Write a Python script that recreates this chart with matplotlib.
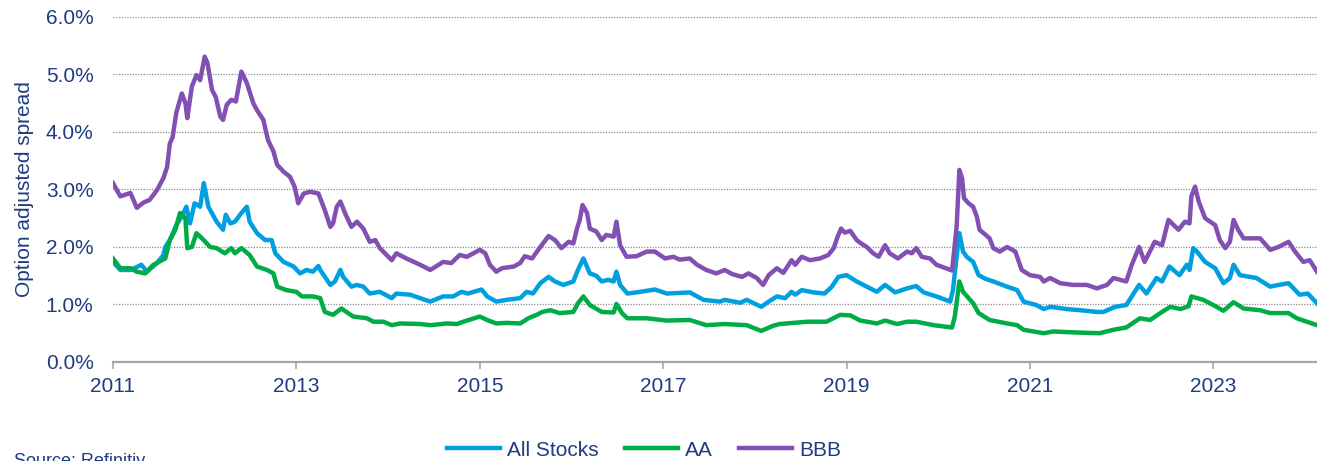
import matplotlib
matplotlib.use("Agg")
import matplotlib.pyplot as plt
import numpy as np

plt.rcParams['font.family'] = ['Liberation Sans', 'DejaVu Sans']

# series data: decimal year, spread in %
bbb_t = [2011.00, 2011.08, 2011.19, 2011.26, 2011.33, 2011.40, 2011.48, 2011.55, 2011.59, 2011.62,
         2011.65, 2011.69, 2011.75, 2011.79, 2011.81, 2011.86, 2011.91, 2011.95, 2012.00, 2012.03,
         2012.08, 2012.12, 2012.17, 2012.20, 2012.24, 2012.29, 2012.34, 2012.40, 2012.46, 2012.53,
         2012.57, 2012.64, 2012.69, 2012.75, 2012.79, 2012.86, 2012.93, 2012.98, 2013.02, 2013.08,
         2013.15, 2013.24, 2013.31, 2013.37, 2013.40, 2013.44, 2013.48, 2013.53, 2013.60, 2013.66,
         2013.73, 2013.80, 2013.86, 2013.91, 2014.04, 2014.09, 2014.20, 2014.35, 2014.46, 2014.60,
         2014.69, 2014.78, 2014.86, 2015.00, 2015.06, 2015.11, 2015.18, 2015.24, 2015.37, 2015.44,
         2015.49, 2015.57, 2015.66, 2015.75, 2015.82, 2015.89, 2015.97, 2016.02, 2016.06, 2016.09,
         2016.12, 2016.17, 2016.20, 2016.27, 2016.33, 2016.38, 2016.46, 2016.49, 2016.53, 2016.60,
         2016.71, 2016.82, 2016.91, 2017.02, 2017.11, 2017.18, 2017.29, 2017.37, 2017.47, 2017.58,
         2017.67, 2017.75, 2017.86, 2017.93, 2018.02, 2018.09, 2018.15, 2018.24, 2018.31, 2018.40,
         2018.44, 2018.51, 2018.60, 2018.71, 2018.80, 2018.86, 2018.90, 2018.94, 2018.98, 2019.04,
         2019.11, 2019.16, 2019.22, 2019.29, 2019.35, 2019.42, 2019.47, 2019.56, 2019.66, 2019.71,
         2019.76, 2019.82, 2019.91, 2019.98, 2020.05, 2020.15, 2020.17, 2020.20, 2020.23, 2020.26,
         2020.28, 2020.33, 2020.38, 2020.42, 2020.45, 2020.56, 2020.60, 2020.67, 2020.75, 2020.84,
         2020.91, 2021.00, 2021.11, 2021.15, 2021.22, 2021.33, 2021.47, 2021.62, 2021.73, 2021.84,
         2021.91, 2022.05, 2022.11, 2022.19, 2022.25, 2022.36, 2022.44, 2022.51, 2022.62, 2022.69,
         2022.74, 2022.76, 2022.80, 2022.84, 2022.91, 2023.02, 2023.07, 2023.13, 2023.18, 2023.22,
         2023.27, 2023.33, 2023.51, 2023.62, 2023.71, 2023.82, 2023.89, 2023.98, 2024.05, 2024.13]
bbb_v = [3.11, 2.88, 2.94, 2.68, 2.77, 2.82, 2.99, 3.20, 3.39, 3.80,
         3.91, 4.33, 4.67, 4.50, 4.24, 4.79, 4.99, 4.90, 5.31, 5.20,
         4.73, 4.61, 4.27, 4.21, 4.47, 4.56, 4.53, 5.05, 4.85, 4.50,
         4.38, 4.21, 3.86, 3.66, 3.43, 3.31, 3.22, 3.05, 2.76, 2.93,
         2.96, 2.93, 2.64, 2.35, 2.41, 2.70, 2.79, 2.59, 2.35, 2.44,
         2.32, 2.09, 2.12, 1.98, 1.77, 1.89, 1.80, 1.69, 1.60, 1.74,
         1.72, 1.86, 1.83, 1.95, 1.89, 1.69, 1.57, 1.63, 1.66, 1.72,
         1.84, 1.80, 2.00, 2.19, 2.12, 1.98, 2.09, 2.06, 2.32, 2.47,
         2.73, 2.59, 2.32, 2.27, 2.12, 2.21, 2.18, 2.44, 2.03, 1.83,
         1.84, 1.92, 1.92, 1.80, 1.83, 1.78, 1.80, 1.69, 1.60, 1.54,
         1.60, 1.53, 1.48, 1.54, 1.46, 1.34, 1.51, 1.63, 1.55, 1.77,
         1.69, 1.83, 1.77, 1.80, 1.86, 1.98, 2.17, 2.32, 2.25, 2.28,
         2.12, 2.06, 2.00, 1.89, 1.83, 2.03, 1.89, 1.80, 1.92, 1.89,
         1.98, 1.83, 1.80, 1.69, 1.65, 1.59, 1.89, 2.35, 3.34, 3.19,
         2.85, 2.76, 2.70, 2.53, 2.30, 2.15, 1.98, 1.92, 2.00, 1.92,
         1.60, 1.51, 1.48, 1.40, 1.46, 1.37, 1.34, 1.34, 1.28, 1.34,
         1.46, 1.40, 1.69, 2.00, 1.74, 2.09, 2.03, 2.47, 2.30, 2.44,
         2.41, 2.88, 3.05, 2.79, 2.50, 2.38, 2.12, 1.98, 2.09, 2.47,
         2.30, 2.15, 2.15, 1.95, 2.00, 2.09, 1.92, 1.74, 1.77, 1.57]

all_t = [2011.00, 2011.08, 2011.19, 2011.31, 2011.37, 2011.48, 2011.55, 2011.57, 2011.62, 2011.69,
         2011.75, 2011.80, 2011.84, 2011.89, 2011.95, 2011.99, 2012.04, 2012.13, 2012.20, 2012.23,
         2012.28, 2012.33, 2012.40, 2012.46, 2012.49, 2012.57, 2012.66, 2012.73, 2012.77, 2012.86,
         2012.97, 2013.04, 2013.11, 2013.18, 2013.24, 2013.26, 2013.37, 2013.42, 2013.48, 2013.51,
         2013.60, 2013.66, 2013.73, 2013.80, 2013.91, 2014.04, 2014.09, 2014.24, 2014.46, 2014.60,
         2014.71, 2014.80, 2014.87, 2015.02, 2015.08, 2015.18, 2015.29, 2015.44, 2015.51, 2015.58,
         2015.66, 2015.75, 2015.82, 2015.91, 2016.02, 2016.07, 2016.13, 2016.20, 2016.27, 2016.33,
         2016.40, 2016.46, 2016.49, 2016.53, 2016.61, 2016.75, 2016.91, 2017.04, 2017.29, 2017.44,
         2017.62, 2017.67, 2017.84, 2017.91, 2018.07, 2018.15, 2018.24, 2018.33, 2018.40, 2018.44,
         2018.51, 2018.64, 2018.76, 2018.84, 2018.91, 2019.00, 2019.11, 2019.22, 2019.33, 2019.42,
         2019.53, 2019.66, 2019.76, 2019.84, 2019.98, 2020.13, 2020.16, 2020.20, 2020.23, 2020.27,
         2020.31, 2020.38, 2020.44, 2020.51, 2020.60, 2020.75, 2020.86, 2020.93, 2021.07, 2021.15,
         2021.22, 2021.40, 2021.55, 2021.73, 2021.80, 2021.93, 2022.05, 2022.11, 2022.19, 2022.27,
         2022.38, 2022.44, 2022.52, 2022.63, 2022.71, 2022.74, 2022.78, 2022.82, 2022.91, 2023.02,
         2023.11, 2023.18, 2023.22, 2023.29, 2023.47, 2023.62, 2023.71, 2023.82, 2023.94, 2024.03,
         2024.13]
all_v = [1.74, 1.60, 1.60, 1.69, 1.57, 1.72, 1.86, 2.00, 2.12, 2.38,
         2.53, 2.70, 2.41, 2.76, 2.70, 3.11, 2.70, 2.44, 2.30, 2.56,
         2.41, 2.44, 2.59, 2.70, 2.44, 2.24, 2.12, 2.12, 1.89, 1.74,
         1.66, 1.54, 1.60, 1.57, 1.67, 1.60, 1.34, 1.40, 1.60, 1.48,
         1.31, 1.34, 1.31, 1.19, 1.22, 1.11, 1.19, 1.17, 1.05, 1.14,
         1.14, 1.22, 1.19, 1.26, 1.14, 1.05, 1.08, 1.11, 1.22, 1.19,
         1.37, 1.48, 1.40, 1.34, 1.40, 1.60, 1.80, 1.54, 1.50, 1.40,
         1.43, 1.40, 1.57, 1.34, 1.19, 1.22, 1.26, 1.19, 1.21, 1.08,
         1.05, 1.08, 1.03, 1.08, 0.96, 1.05, 1.14, 1.11, 1.22, 1.17,
         1.25, 1.21, 1.19, 1.31, 1.48, 1.51, 1.40, 1.31, 1.22, 1.34,
         1.21, 1.28, 1.32, 1.21, 1.14, 1.05, 1.25, 1.83, 2.24, 1.92,
         1.83, 1.74, 1.51, 1.45, 1.40, 1.31, 1.25, 1.05, 0.99, 0.92,
         0.96, 0.92, 0.90, 0.87, 0.87, 0.96, 0.99, 1.14, 1.34, 1.19,
         1.46, 1.40, 1.66, 1.51, 1.69, 1.60, 1.98, 1.92, 1.74, 1.63,
         1.37, 1.46, 1.69, 1.51, 1.46, 1.31, 1.34, 1.37, 1.17, 1.19,
         1.02]

aa_t = [2011.00, 2011.08, 2011.19, 2011.26, 2011.35, 2011.44, 2011.57, 2011.62, 2011.68, 2011.73,
        2011.79, 2011.81, 2011.86, 2011.91, 2011.97, 2012.06, 2012.13, 2012.22, 2012.29, 2012.33,
        2012.40, 2012.49, 2012.57, 2012.68, 2012.75, 2012.79, 2012.89, 2013.00, 2013.06, 2013.18,
        2013.26, 2013.31, 2013.40, 2013.49, 2013.62, 2013.77, 2013.84, 2013.95, 2014.04, 2014.13,
        2014.35, 2014.46, 2014.64, 2014.75, 2014.82, 2015.00, 2015.08, 2015.18, 2015.29, 2015.44,
        2015.53, 2015.62, 2015.68, 2015.77, 2015.87, 2016.02, 2016.07, 2016.13, 2016.20, 2016.33,
        2016.46, 2016.49, 2016.55, 2016.61, 2016.82, 2017.04, 2017.29, 2017.47, 2017.67, 2017.91,
        2018.07, 2018.20, 2018.27, 2018.42, 2018.57, 2018.78, 2018.93, 2019.04, 2019.15, 2019.33,
        2019.42, 2019.55, 2019.66, 2019.76, 2019.95, 2020.15, 2020.18, 2020.23, 2020.27, 2020.38,
        2020.44, 2020.56, 2020.75, 2020.86, 2020.93, 2021.15, 2021.25, 2021.55, 2021.76, 2021.91,
        2022.05, 2022.20, 2022.31, 2022.42, 2022.53, 2022.64, 2022.73, 2022.76, 2022.89, 2023.00,
        2023.11, 2023.22, 2023.33, 2023.51, 2023.62, 2023.82, 2023.91, 2024.13]
aa_v = [1.80, 1.63, 1.63, 1.57, 1.54, 1.69, 1.80, 2.12, 2.30, 2.59,
        2.50, 1.98, 2.00, 2.24, 2.15, 2.00, 1.98, 1.89, 1.98, 1.89,
        1.98, 1.86, 1.66, 1.60, 1.54, 1.31, 1.25, 1.22, 1.14, 1.14,
        1.11, 0.87, 0.82, 0.93, 0.79, 0.76, 0.70, 0.70, 0.64, 0.67,
        0.66, 0.64, 0.67, 0.66, 0.70, 0.79, 0.73, 0.67, 0.68, 0.67,
        0.76, 0.82, 0.87, 0.90, 0.85, 0.87, 1.02, 1.14, 0.99, 0.87,
        0.86, 1.01, 0.85, 0.76, 0.76, 0.72, 0.73, 0.64, 0.66, 0.64,
        0.54, 0.63, 0.66, 0.68, 0.70, 0.70, 0.82, 0.81, 0.72, 0.67,
        0.72, 0.66, 0.70, 0.70, 0.64, 0.60, 0.79, 1.40, 1.22, 1.02,
        0.85, 0.73, 0.67, 0.64, 0.56, 0.50, 0.53, 0.51, 0.50, 0.56,
        0.60, 0.76, 0.73, 0.85, 0.96, 0.92, 0.97, 1.14, 1.08, 0.99,
        0.89, 1.04, 0.93, 0.90, 0.85, 0.85, 0.76, 0.64]

year_ticks = [2011, 2013, 2015, 2017, 2019, 2021, 2023]
pct_ticks = [0, 1, 2, 3, 4, 5, 6]

navy = '#1f3b82'

fig = plt.figure(figsize=(13.17, 4.61), dpi=100)
ax = fig.add_axes([0.0858, 0.2148, 0.9142, 0.7484])

ax.plot(all_t, all_v, color='#00a0e0', lw=3.2, label='All Stocks', solid_joinstyle='round')
ax.plot(aa_t, aa_v, color='#00ac46', lw=3.2, label='AA', solid_joinstyle='round')
ax.plot(bbb_t, bbb_v, color='#8150b2', lw=3.2, label='BBB', solid_joinstyle='round')

ax.set_xlim(2011, 2024.13)
ax.set_ylim(0, 6)
ax.set_xticks(year_ticks)
ax.set_xticklabels([str(y) for y in year_ticks])
ax.set_yticks(pct_ticks)
ax.set_yticklabels(['%.1f%%' % p for p in pct_ticks])

# dotted horizontal gridlines
for p in pct_ticks[1:]:
    ax.axhline(p, color='#8c8c8c', lw=0.9, ls=(0, (1, 1.2)), zorder=0)

for s in ['top', 'right', 'left']:
    ax.spines[s].set_visible(False)
ax.spines['bottom'].set_color('#a6a6a6')
ax.spines['bottom'].set_linewidth(1.6)

ax.tick_params(axis='x', colors='#a6a6a6', length=5, width=1.2, pad=6, labelcolor=navy, labelsize=15)
ax.tick_params(axis='y', length=0, pad=14, labelcolor=navy, labelsize=15)

ax.set_ylabel('Option adjusted spread', color=navy, fontsize=15)
ax.yaxis.set_label_coords(-0.066, 0.5)

fig.legend(loc='center', bbox_to_anchor=(0.489, 1 - 450 / 461), ncol=3, frameon=False,
           fontsize=15, handlelength=2.55, handletextpad=0.35, columnspacing=1.25,
           labelcolor=navy)

fig.text(0.011, 1 - 453 / 461, 'Source: Refinitiv', color=navy, fontsize=13, va='top', ha='left')

fig.savefig('out.png', dpi=100)
